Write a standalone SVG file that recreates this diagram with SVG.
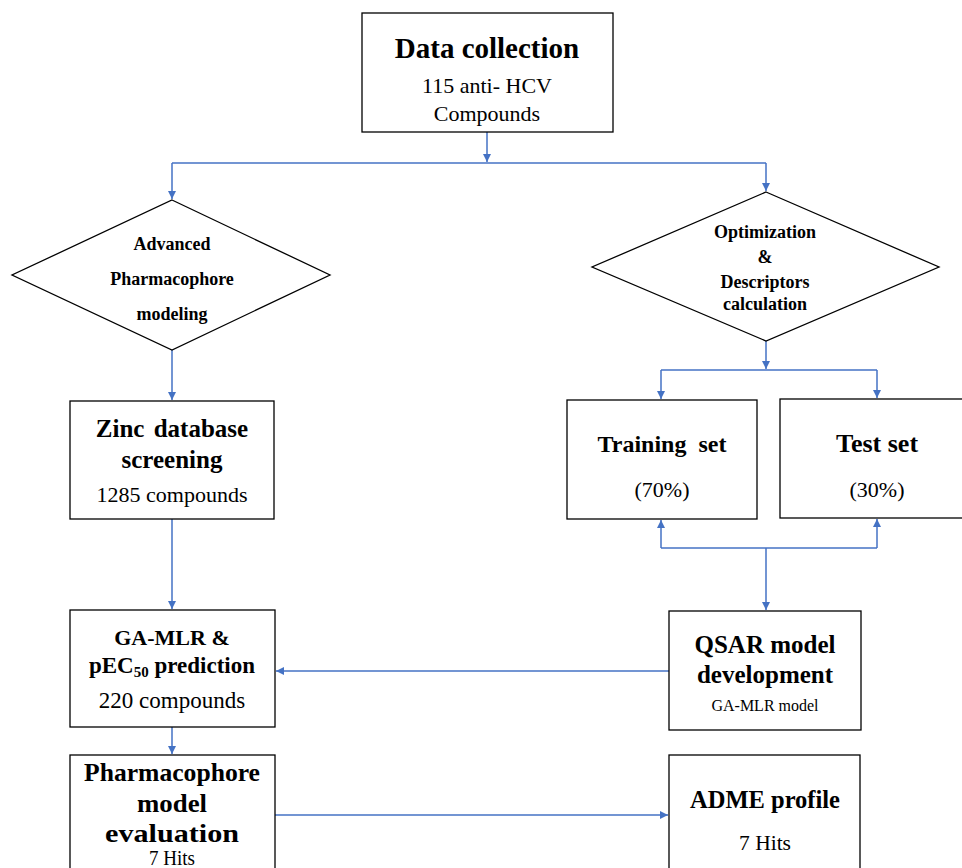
<svg xmlns="http://www.w3.org/2000/svg" width="962" height="868" viewBox="0 0 962 868">
<style>
.box{fill:#fff;stroke:#000;stroke-width:1.3}
.t{font-family:"Liberation Serif","Times New Roman",serif;fill:#000;text-anchor:middle}
.b{font-weight:bold}
.c{fill:none;stroke:#4472C4;stroke-width:1.5}
</style>
<defs>
<marker id="ah" viewBox="0 0 10 10" refX="10" refY="5" markerWidth="8" markerHeight="8" markerUnits="userSpaceOnUse" orient="auto">
<path d="M0,0 L10,5 L0,10 z" fill="#4472C4"/>
</marker>
</defs>
<rect width="962" height="868" fill="#fff"/>
<g id="connectors">
<path class="c" d="M487,132 V162" marker-end="url(#ah)"/>
<path class="c" d="M172,163 H766"/>
<path class="c" d="M172,163 V199" marker-end="url(#ah)"/>
<path class="c" d="M766,163 V191" marker-end="url(#ah)"/>
<path class="c" d="M172,350 V400" marker-end="url(#ah)"/>
<path class="c" d="M766,341 V369" marker-end="url(#ah)"/>
<path class="c" d="M661,370 H877"/>
<path class="c" d="M661,370 V399" marker-end="url(#ah)"/>
<path class="c" d="M877,370 V398" marker-end="url(#ah)"/>
<path class="c" d="M661,548 H877"/>
<path class="c" d="M661,548 V520" marker-end="url(#ah)"/>
<path class="c" d="M877,548 V519" marker-end="url(#ah)"/>
<path class="c" d="M766,548 V610" marker-end="url(#ah)"/>
<path class="c" d="M172,519 V609" marker-end="url(#ah)"/>
<path class="c" d="M669,671 H276" marker-end="url(#ah)"/>
<path class="c" d="M172,727 V754" marker-end="url(#ah)"/>
<path class="c" d="M275,815 H668" marker-end="url(#ah)"/>
</g>
<g id="data-collection">
<rect class="box" x="362" y="13" width="251" height="119"/>
<text class="t b" x="487" y="58" font-size="29">Data collection</text>
<text class="t" x="487" y="93" font-size="22">115 anti- HCV</text>
<text class="t" x="487" y="121" font-size="22">Compounds</text>
</g>
<g id="pharmacophore-modeling">
<polygon class="box" points="172,200 330,275 172,350 12,275"/>
<text class="t b" x="172" y="250" font-size="18">Advanced</text>
<text class="t b" x="172" y="285" font-size="18">Pharmacophore</text>
<text class="t b" x="172" y="320" font-size="18">modeling</text>
</g>
<g id="optimization">
<polygon class="box" points="766,192 939,267 766,341 592,267"/>
<text class="t b" x="765" y="238" font-size="18">Optimization</text>
<text class="t b" x="765" y="263" font-size="18">&amp;</text>
<text class="t b" x="765" y="288" font-size="18">Descriptors</text>
<text class="t b" x="765" y="310" font-size="18">calculation</text>
</g>
<g id="training-set">
<rect class="box" x="567" y="400" width="190" height="119"/>
<text class="t b" x="662" y="452" font-size="24" word-spacing="6">Training set</text>
<text class="t" x="662" y="497" font-size="22">(70%)</text>
</g>
<g id="test-set">
<rect class="box" x="780" y="399" width="190" height="119"/>
<text class="t b" x="877" y="452" font-size="26">Test set</text>
<text class="t" x="877" y="497" font-size="22">(30%)</text>
</g>
<g id="zinc-screening">
<rect class="box" x="70" y="401" width="204" height="118"/>
<text class="t b" x="172" y="437" font-size="25" word-spacing="3">Zinc database</text>
<text class="t b" x="172" y="468" font-size="25">screening</text>
<text class="t" x="172" y="502" font-size="22">1285 compounds</text>
</g>
<g id="ga-mlr">
<rect class="box" x="70" y="610" width="205" height="117"/>
<text class="t b" x="172" y="645" font-size="22">GA-MLR &amp;</text>
<text class="t b" x="172" y="673" font-size="23">pEC<tspan font-size="15" dy="4">50</tspan><tspan dy="-4"> prediction</tspan></text>
<text class="t" x="172" y="708" font-size="23">220 compounds</text>
</g>
<g id="qsar">
<rect class="box" x="669" y="611" width="192" height="119"/>
<text class="t b" x="765" y="653" font-size="25">QSAR model</text>
<text class="t b" x="765" y="683" font-size="25">development</text>
<text class="t" x="765" y="711" font-size="16">GA-MLR model</text>
</g>
<g id="pharmacophore-evaluation">
<rect class="box" x="70" y="755" width="205" height="130"/>
<text class="t b" x="172" y="781" font-size="26" textLength="176" lengthAdjust="spacingAndGlyphs">Pharmacophore</text>
<text class="t b" x="172" y="812" font-size="26" textLength="70" lengthAdjust="spacingAndGlyphs">model</text>
<text class="t b" x="172" y="842" font-size="26" textLength="134" lengthAdjust="spacingAndGlyphs">evaluation</text>
<text class="t" x="172" y="865" font-size="20" textLength="46" lengthAdjust="spacingAndGlyphs">7 Hits</text>
</g>
<g id="adme">
<rect class="box" x="669" y="755" width="191" height="130"/>
<text class="t b" x="765" y="808" font-size="25" textLength="150" lengthAdjust="spacingAndGlyphs">ADME profile</text>
<text class="t" x="765" y="850" font-size="21" textLength="52" lengthAdjust="spacingAndGlyphs">7 Hits</text>
</g>
</svg>
